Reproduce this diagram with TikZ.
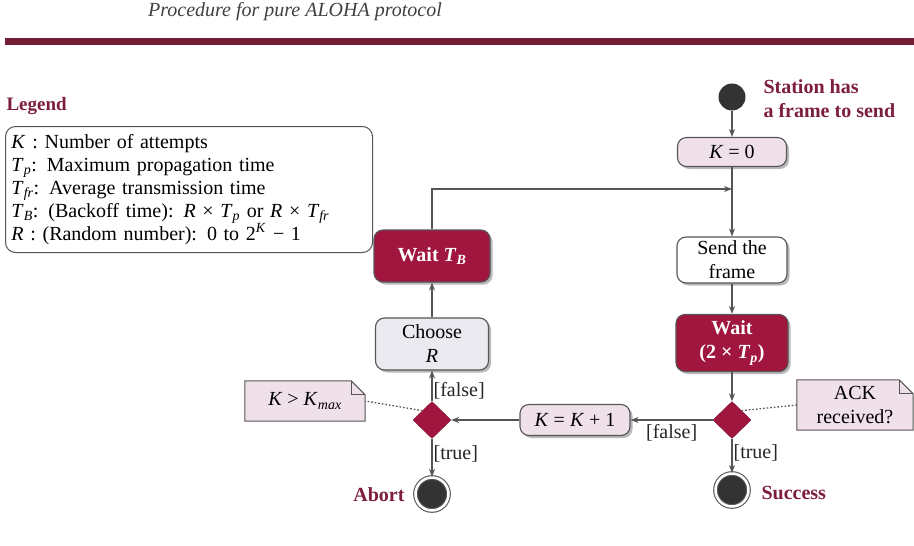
\documentclass[tikz,border=0pt]{standalone}
\usepackage{fontspec}
\setmainfont{Liberation Serif}
\usetikzlibrary{shapes.geometric,arrows.meta,shadows,backgrounds}
\definecolor{wred}{RGB}{160,22,62}
\definecolor{pinkf}{RGB}{240,224,234}
\definecolor{grayf}{RGB}{234,234,240}
\definecolor{maroon}{RGB}{125,30,58}
\definecolor{barc}{RGB}{115,30,52}
\definecolor{linec}{RGB}{85,85,85}
\newcommand{\iv}[1]{\textit{#1}}
\newcommand{\sbi}[1]{\textsubscript{\textit{#1}}}
\begin{document}
\begin{tikzpicture}[x=1pt,y=-1pt,
  font=\fontsize{20}{24}\selectfont,
  act/.style={draw=linec, line width=1.1pt, rounded corners=9pt, align=center, inner sep=2pt,
    drop shadow={shadow xshift=2.5pt,shadow yshift=-2.5pt,fill=black!55}},
  pinkact/.style={act, fill=pinkf},
  whiteact/.style={act, fill=white},
  grayact/.style={act, fill=grayf},
  redact/.style={act, fill=wred, text=white, font=\fontsize{20}{24}\selectfont\bfseries},
  dec/.style={diamond, fill=wred, draw=wred!80!black, minimum width=38pt, minimum height=37pt, inner sep=0pt},
  startc/.style={circle, fill=black!80, minimum size=27pt, inner sep=0pt},
  endc/.style={circle, fill=black!80, draw=black!65, line width=1.1pt, double=white, double distance=2.5pt, minimum size=33pt, inner sep=0pt},
  notebox/.style={align=center, inner sep=2pt},
  notedraw/.style={draw=linec, line width=1pt, fill=pinkf},
  arr/.style={draw=linec, line width=1.2pt, -{Stealth[length=8pt,width=6pt]}},
  dots/.style={draw=linec, line width=1.3pt, dash pattern=on 1.6pt off 2pt},
  lbl/.style={text=black!85, inner sep=1pt},
  boldm/.style={text=maroon, font=\fontsize{20}{24}\selectfont\bfseries, align=left}
]
\useasboundingbox (0,0) rectangle (914,546);

% title and bar
\node[text=black!75, font=\fontsize{20}{24}\selectfont\itshape] (title) at (295,12) {Procedure for pure ALOHA protocol};
\fill[barc] (5,38) rectangle (914,45);

% legend
\node[boldm, anchor=west, font=\fontsize{19}{23}\selectfont\bfseries] (legt) at (3,106) {Legend};
\node[draw=linec, line width=1pt, rounded corners=10pt, anchor=north west, align=left,
  inner xsep=5pt, inner ysep=4pt, minimum width=367pt, minimum height=126pt, text width=355pt,
  font=\fontsize{20}{23}\selectfont] (legend) at (5,126)
{\iv{K} : Number of attempts\\
 \iv{T}\sbi{p}: Maximum propagation time\\
 \iv{T}\sbi{fr}: Average transmission time\\
 \iv{T}\sbi{B}: (Backoff time): \iv{R} × \iv{T}\sbi{p} or \iv{R} × \iv{T}\sbi{fr}\\
 \iv{R} : (Random number): 0 to 2\textsuperscript{\iv{K}} − 1};

% right column
\node[startc] (start) at (732,97) {};
\node[boldm, anchor=north west] (station) at (760,76) {Station has\\a frame to send};
\node[pinkact, minimum width=109pt, minimum height=29pt] (k0) at (732,152) {\iv{K} = 0};
\coordinate (join) at (732,189);
\node[whiteact, minimum width=110pt, minimum height=46pt] (send) at (732,260) {Send the\\frame};
\node[redact, minimum width=112pt, minimum height=57pt] (wait2) at (732,343) {Wait\\(2 × \iv{T}\sbi{p})};
\node[dec] (d1) at (732,420) {};
\node[endc] (success) at (732,490) {};
\node[boldm, anchor=west] (succt) at (758,493) {Success};
\node[notebox, minimum width=116pt, minimum height=50pt] (ack) at (855,405) {ACK\\received?};

% middle
\node[pinkact, minimum width=110pt, minimum height=31pt] (kk1) at (575,420) {\iv{K} = \iv{K} + 1};

% left column
\node[redact, minimum width=116pt, minimum height=52pt] (waitb) at (432,256) {Wait \iv{T}\sbi{B}};
\node[grayact, minimum width=113pt, minimum height=52pt] (choose) at (432,344) {Choose\\\iv{R}};
\node[dec] (d2) at (432,420) {};
\node[endc] (abort) at (432,494) {};
\node[boldm, anchor=east] (abortt) at (408,495) {Abort};
\node[notebox, minimum width=120pt, minimum height=40pt] (kmax) at (305,401) {\iv{K} > \iv{K}\sbi{max}};

% note outlines
\begin{scope}[on background layer]
  \draw[notedraw] (ack.south west) -- (ack.north west) -- ([xshift=-14pt]ack.north east) -- ([yshift=-14pt]ack.north east) -- (ack.south east) -- cycle;
  \draw[draw=linec, line width=1pt] ([xshift=-14pt]ack.north east) -- ([xshift=-14pt,yshift=-14pt]ack.north east) -- ([yshift=-14pt]ack.north east);
  \draw[notedraw] (kmax.south west) -- (kmax.north west) -- ([xshift=-14pt]kmax.north east) -- ([yshift=-14pt]kmax.north east) -- (kmax.south east) -- cycle;
  \draw[draw=linec, line width=1pt] ([xshift=-14pt]kmax.north east) -- ([xshift=-14pt,yshift=-14pt]kmax.north east) -- ([yshift=-14pt]kmax.north east);
\end{scope}

% connectors
\draw[arr] (start) -- (k0);
\draw[arr] (k0) -- (send);
\draw[arr] (waitb.north) |- (join);
\draw[arr] (send) -- (wait2);
\draw[arr] (wait2) -- (d1);
\draw[arr] (d1) -- node[lbl, right, pos=0.4] {[true]} (success);
\draw[arr] (d1.west) -- node[lbl, below=3pt, pos=0.5] {[false]} (kk1.east);
\draw[arr] (kk1.west) -- (d2.east);
\draw[arr] (d2) -- node[lbl, right, pos=0.4] {[true]} (abort);
\draw[arr] (d2) -- node[lbl, right, pos=0.35] {[false]} (choose);
\draw[arr] (choose) -- (waitb);
\draw[dots] (d1.north east) -- (ack.west);
\draw[dots] (d2.north west) -- (kmax.east);
\end{tikzpicture}
\end{document}
